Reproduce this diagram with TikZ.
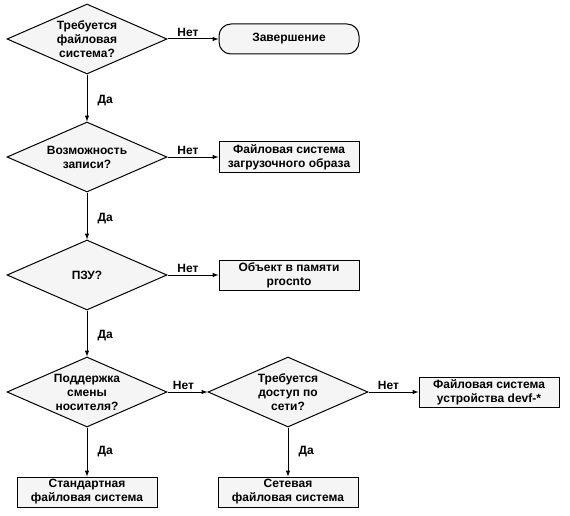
\documentclass[tikz,border=0pt]{standalone}
\usepackage{fontspec}
\setmainfont{Liberation Sans}
\usetikzlibrary{shapes.geometric,arrows,positioning}
\definecolor{boxgray}{HTML}{F5F5F5}

\begin{document}
\begin{tikzpicture}[x=1pt,y=1pt,node distance=47pt and 51pt,
  every node/.style={align=center,font=\fontsize{12}{14}\selectfont\bfseries},
  decision/.style={draw,diamond,aspect=2.3,inner sep=0pt,fill=boxgray,minimum width=160pt,minimum height=70pt,line width=1pt},
  box/.style={draw,fill=boxgray,minimum width=140pt,minimum height=30pt,inner sep=1pt,line width=1pt},
  term/.style={box,rounded corners=12pt},
  arrow/.style={-latex,line width=1pt},
  lbl/.style={inner sep=2pt}]
  \useasboundingbox (0,0) rectangle (570,-516);
  \node[decision] (needfs) at (87,-39) {Требуется\\файловая\\система?};
  \node[term,right=of needfs] (finish) {Завершение};
  \node[decision,below=of needfs] (writable) {Возможность\\записи?};
  \node[box,right=of writable] (imagefs) {Файловая система\\загрузочного образа};
  \node[decision,below=of writable] (rom) {ПЗУ?};
  \node[box,right=of rom] (procnto) {Объект в памяти\\procnto};
  \node[decision,below=46pt of rom] (removable) {Поддержка\\смены\\носителя?};
  \node[decision,right=40pt of removable] (network) {Требуется\\доступ по\\сети?};
  \node[box,right=50pt of network] (devf) {Файловая система\\устройства devf-*};
  \node[box,below=49pt of removable] (stdfs) {Стандартная\\файловая система};
  \node[box,below=49pt of network] (netfs) {Сетевая\\файловая система};
  \draw[arrow] (needfs) -- node[lbl,above,pos=0.4] {Нет} (finish);
  \draw[arrow] (needfs) -- node[lbl,right,pos=0.55,xshift=8pt] {Да} (writable);
  \draw[arrow] (writable) -- node[lbl,above,pos=0.4] {Нет} (imagefs);
  \draw[arrow] (writable) -- node[lbl,right,pos=0.55,xshift=8pt] {Да} (rom);
  \draw[arrow] (rom) -- node[lbl,above,pos=0.4] {Нет} (procnto);
  \draw[arrow] (rom) -- node[lbl,right,pos=0.55,xshift=8pt] {Да} (removable);
  \draw[arrow] (removable) -- node[lbl,above,pos=0.4] {Нет} (network);
  \draw[arrow] (network) -- node[lbl,above,pos=0.4] {Нет} (devf);
  \draw[arrow] (removable) -- node[lbl,right,pos=0.5,xshift=8pt] {Да} (stdfs);
  \draw[arrow] (network) -- node[lbl,right,pos=0.5,xshift=8pt] {Да} (netfs);
\end{tikzpicture}
\end{document}
